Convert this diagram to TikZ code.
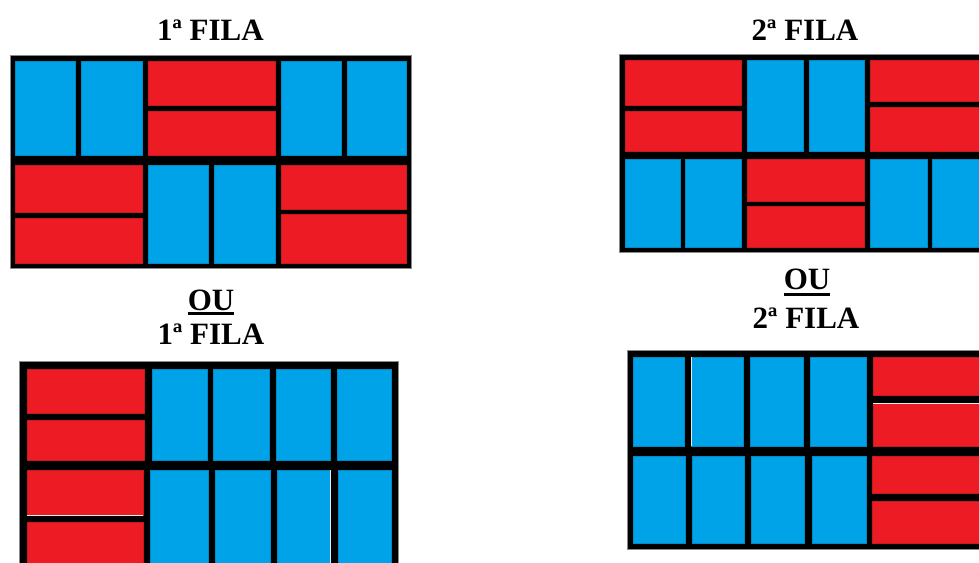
\documentclass[tikz,border=0pt]{standalone}
\usepackage{fontspec}
\usetikzlibrary{calc}
\setmainfont{Liberation Serif}
\definecolor{tijred}{HTML}{ED1C24}
\definecolor{tijblue}{HTML}{00A2E8}
\definecolor{frame}{HTML}{8A8A8A}
\tikzset{
  title/.style={anchor=base, font=\fontsize{31}{34}\selectfont\bfseries, inner sep=0pt},
  outer/.style={fill=black, draw=frame, line width=0.6pt},
  rb/.style={fill=tijred, draw=tijred!85!black, line width=0.4pt},
  bb/.style={fill=tijblue, draw=tijblue!85!black, line width=0.4pt},
  uline/.style={line width=3pt},
  artif/.style={draw=white!85!gray, line width=1pt}
}
\begin{document}
\begin{tikzpicture}[x=1pt,y=-1pt]
\useasboundingbox (0,0) rectangle (979,562);
% ---------- Panel 1 ----------
\node[title] (t1) at (210.5,40) {1ª FILA};
\draw[outer] (10,55) rectangle (411,268);
\draw[bb] (15,61) rectangle (75,155);
\draw[bb] (81,61) rectangle (142,155);
\draw[rb] (148,61) rectangle (275,105);
\draw[rb] (148,111) rectangle (275,155);
\draw[bb] (281,61) rectangle (341,155);
\draw[bb] (347,61) rectangle (406,155);
\draw[rb] (15,165) rectangle (142,212);
\draw[rb] (15,218) rectangle (142,263);
\draw[bb] (148,165) rectangle (208,263);
\draw[bb] (214,165) rectangle (275,263);
\draw[rb] (281,165) rectangle (406,209);
\draw[rb] (281,214) rectangle (406,263);
% ---------- Panel 2 ----------
\node[title] (t2) at (805,40) {2ª FILA};
\draw[outer] (619,54) rectangle (990,252);
\draw[rb] (625,60) rectangle (741,105);
\draw[rb] (625,111) rectangle (741,151);
\draw[bb] (747,60) rectangle (803,151);
\draw[bb] (809,60) rectangle (864,151);
\draw[rb] (870,60) rectangle (985,101);
\draw[rb] (870,107) rectangle (985,151);
\draw[bb] (625,159) rectangle (680,247);
\draw[bb] (685,159) rectangle (741,247);
\draw[rb] (747,159) rectangle (864,201);
\draw[rb] (747,206) rectangle (864,247);
\draw[bb] (870,159) rectangle (927,247);
\draw[bb] (932,159) rectangle (985,247);
% ---------- Panel 3 ----------
\node[title] (o3) at (211,310) {OU};
\draw[uline] ($(o3.base west)+(0,3.5)$) -- ($(o3.base east)+(0,3.5)$);
\node[title] (t3) at (211,344) {1ª FILA};
\draw[outer] (19,361) rectangle (398,575);
\draw[rb] (27,369) rectangle (144,413);
\draw[rb] (27,420) rectangle (144,460);
\draw[bb] (152,369) rectangle (207,460);
\draw[bb] (213,369) rectangle (269,460);
\draw[bb] (276,369) rectangle (330,460);
\draw[bb] (337,369) rectangle (391,460);
\draw[rb] (27,470) rectangle (143,515);
\draw[rb] (27,522) rectangle (143,570);
\draw[bb] (150,470) rectangle (208,570);
\draw[bb] (215,470) rectangle (270,570);
\draw[bb] (277,470) rectangle (330,570);
\draw[bb] (338,470) rectangle (391,570);
\draw[artif] (27,515) -- (143,515);
\draw[artif] (330.5,470) -- (330.5,570);
% ---------- Panel 4 ----------
\node[title] (o4) at (807,289) {OU};
\draw[uline] ($(o4.base west)+(0,5)$) -- ($(o4.base east)+(0,5)$);
\node[title] (t4) at (806,328) {2ª FILA};
\draw[outer] (627,350) rectangle (990,549);
\draw[bb] (633,357) rectangle (684,446);
\draw[bb] (691,357) rectangle (743,446);
\draw[bb] (750,357) rectangle (803,446);
\draw[bb] (810,357) rectangle (866,446);
\draw[rb] (873,357) rectangle (985,395);
\draw[rb] (873,403) rectangle (985,446);
\draw[bb] (633,456) rectangle (685,543);
\draw[bb] (692,456) rectangle (744,543);
\draw[bb] (751,456) rectangle (804,543);
\draw[bb] (812,456) rectangle (866,543);
\draw[rb] (872,456) rectangle (985,493);
\draw[rb] (872,501) rectangle (985,543);
\draw[artif] (691,357) -- (691,446);
\draw[artif] (873,403) -- (985,403);
\end{tikzpicture}
\end{document}
